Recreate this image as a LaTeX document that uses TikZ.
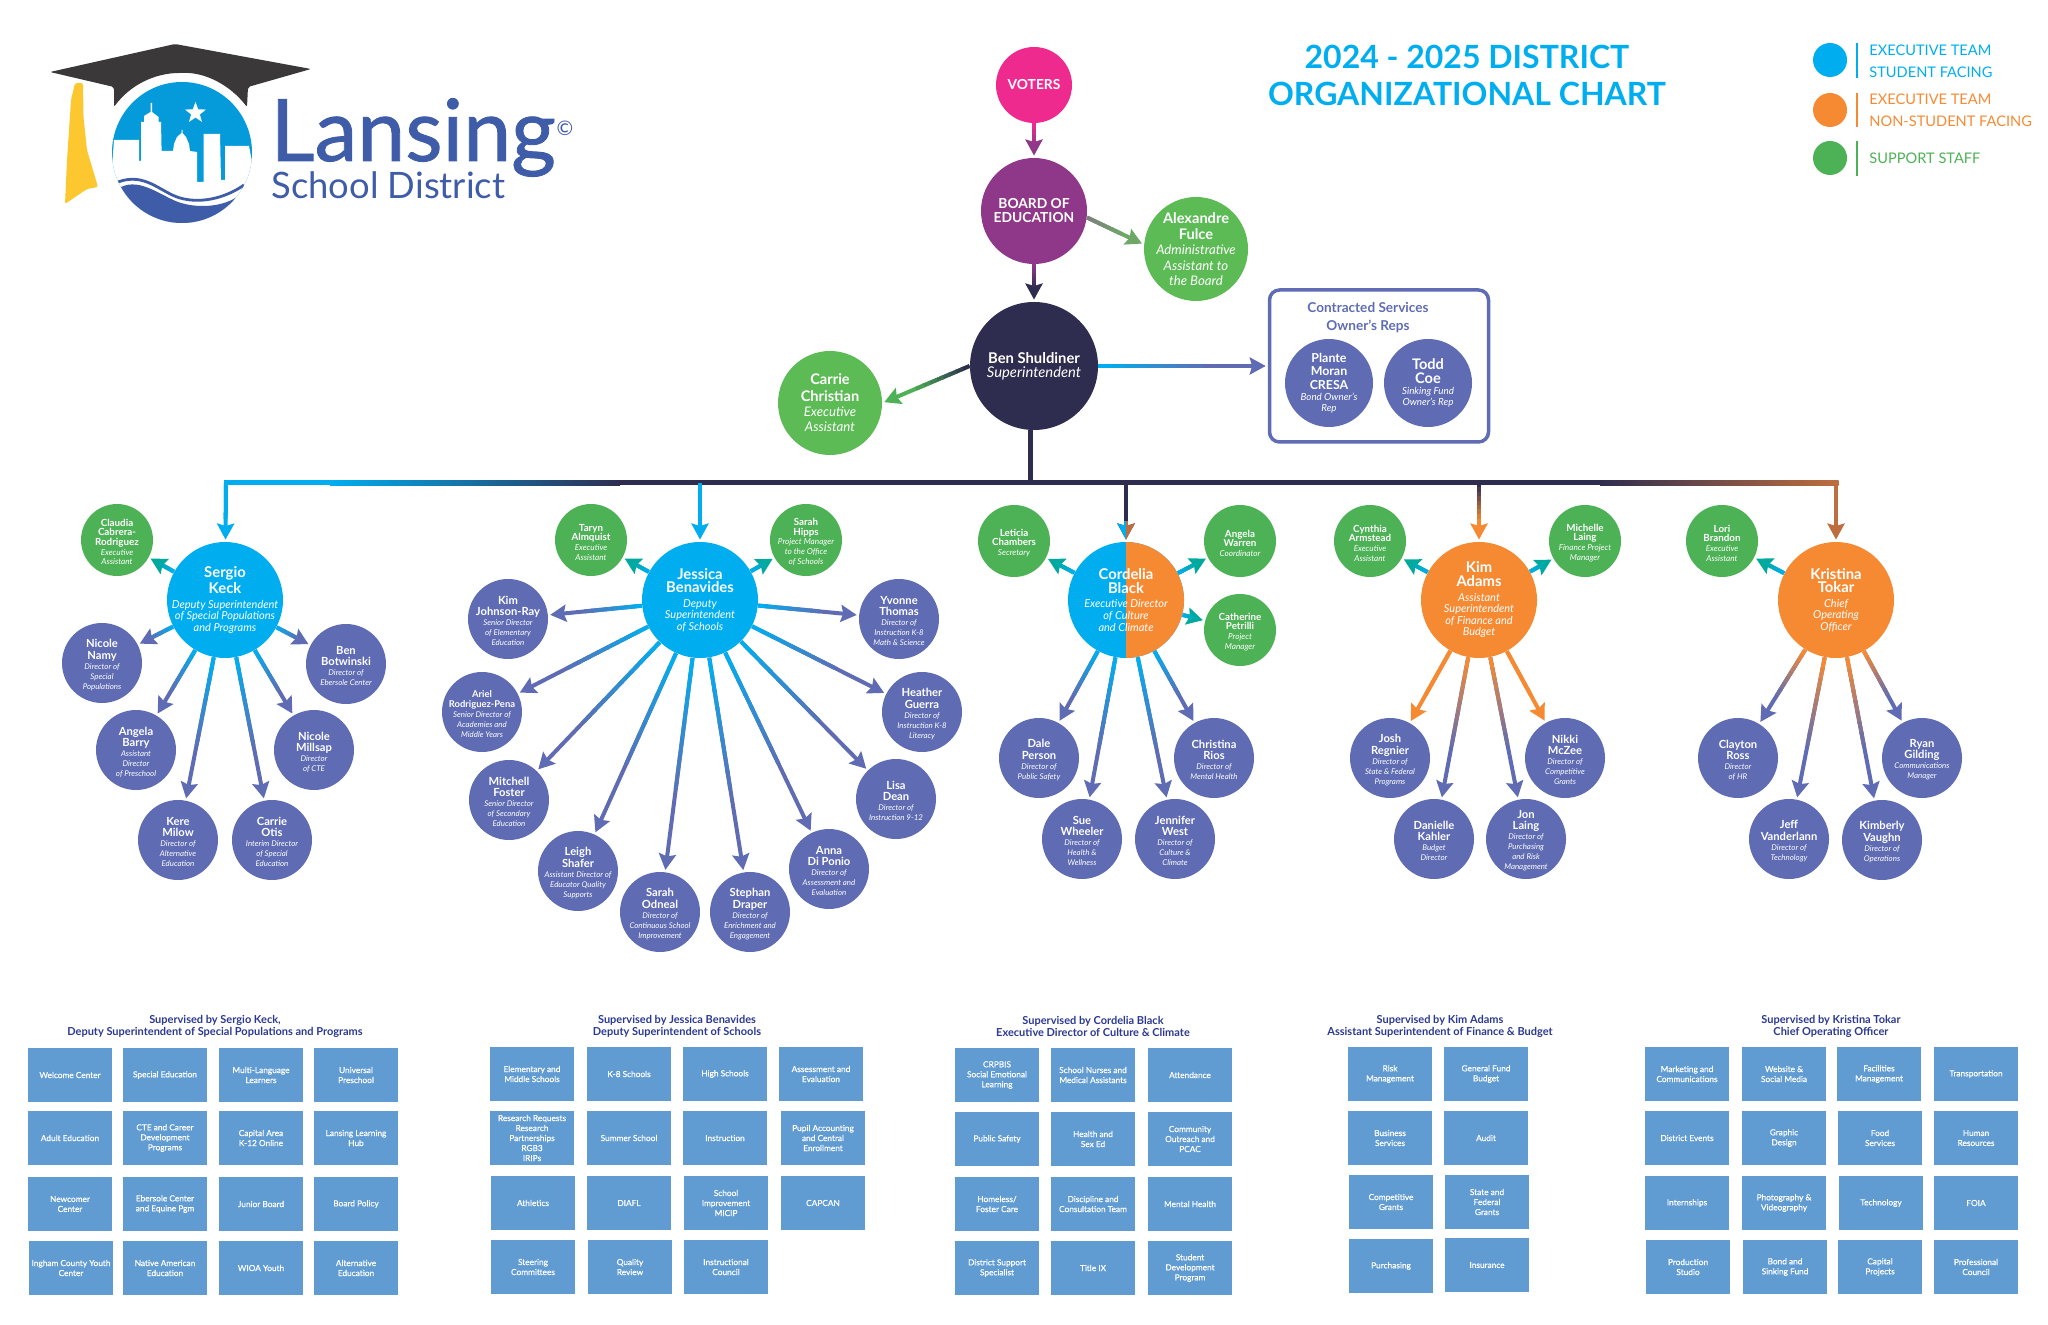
\documentclass[tikz,border=0pt]{standalone}
\usepackage{xcolor}
\usepackage{fontspec}
\setmainfont{Lato}
\usepackage{tikz}
\usetikzlibrary{arrows.meta, calc, shapes.geometric}

\definecolor{execblue}{HTML}{00AEEF}
\definecolor{execorange}{HTML}{F58A33}
\definecolor{memberblue}{HTML}{5F6CB3}
\definecolor{staffgreen}{HTML}{4DB155}
\definecolor{lightgreen}{HTML}{5CBB55}
\definecolor{fulcegreen}{HTML}{6EA868}
\definecolor{tealhead}{HTML}{00A99D}
\definecolor{votepink}{HTML}{EE2A8F}
\definecolor{boardpurple}{HTML}{8F3788}
\definecolor{navyblue}{HTML}{2E2D50}
\definecolor{unitblue}{HTML}{609BD2}
\definecolor{headblue}{HTML}{2B3990}
\definecolor{brownorange}{HTML}{BE6E3E}
\definecolor{logoblue}{HTML}{3F5CA8}
\definecolor{logosky}{HTML}{059BDB}
\definecolor{logogold}{HTML}{FDC82F}
\definecolor{logocap}{HTML}{3A3839}
\definecolor{greyline}{HTML}{7F7F7F}

\newcommand{\whotext}[6]{\makebox[0pt]{\parbox{90pt}{\centering
  {\fontsize{#1}{#2}\selectfont\bfseries #5\par}
  {\fontsize{#3}{#4}\selectfont\itshape #6\par}}}}
\newcommand{\whotop}[2]{\whotext{7.3}{8.2}{6.6}{7.6}{#1}{#2}}
\newcommand{\wholead}[2]{\whotext{7.4}{6.8}{5.5}{5.8}{#1}{\vspace*{1.5pt}#2}}
\newcommand{\whorep}[2]{\whotext{6.2}{6.8}{4.9}{5.5}{#1}{#2}}
\newcommand{\whosub}[2]{\whotext{5.6}{5.6}{3.95}{5}{\vspace*{2pt}#1}{#2}}
\newcommand{\whostaff}[2]{\whotext{4.9}{4.7}{4.1}{4.9}{\vspace*{2pt}#1}{#2}}

\newcommand{\arrowlink}[4]{%
  \draw[linkline, draw=#4, -{Stealth[length=8pt, width=8.5pt, inset=1.2pt]}, shorten >=1pt] (#1) -- (#2)
    coordinate[pos=0] (ls) coordinate[pos=.6] (le);
  \foreach \k [evaluate=\k as \m using int(\k*12.5)] in {0,...,7}
    \draw[linkline, draw=#4!\m!#3] ($(ls)!\k/8!(le)$) -- ($(ls)!\k/8+.15!(le)$);
}

\begin{document}
\begin{tikzpicture}[x=.5pt, y=-.5pt]
\tikzstyle{circ}=[circle, inner sep=0pt, text=white, align=center]
\tikzstyle{lead}=[circ, minimum size=58pt, fill=execblue]
\tikzstyle{member}=[circ, minimum size=40pt, fill=memberblue]
\tikzstyle{staff}=[circ, minimum size=36pt, fill=staffgreen]
\tikzstyle{unit}=[rectangle, fill=unitblue, minimum width=42pt, minimum height=27pt, inner sep=0pt, text=white, align=center, font=\fontsize{4.15}{5}\selectfont\addfontfeature{FakeBold=.6}]
\tikzstyle{grouphead}=[inner sep=0pt, text=headblue, align=center, font=\fontsize{5.5}{6}\selectfont\bfseries]
\tikzstyle{legendtext}=[anchor=west, inner sep=0pt, align=left, font=\fontsize{7.3}{11}\selectfont]
\tikzstyle{linkline}=[line width=2pt]
\useasboundingbox (0,0) rectangle (2048,1325);

\fill[logogold, rounded corners=1pt] (75,83) -- (83,83) -- (83.5,117) -- (87,150) -- (98,187) -- (87,189) -- (65,204) -- (67,160) -- (71,100) -- cycle;
\fill[logocap, rounded corners=1pt] (175,44) -- (311,69) -- (248,87) -- (247,107) .. controls (230,85) and (205,72) .. (181,73) .. controls (155,73) and (130,85) .. (114,107) -- (114,87) -- (50,72) -- cycle;
\begin{scope}
\clip (182,152.5) ellipse [x radius=70, y radius=70.5];
\fill[logosky] (100,70) rectangle (260,240);
\fill[white] (112,167) -- (114,140) -- (139,140) -- (139,161) -- (141,161) -- (141,122) -- (144,122) -- (144,116) -- (150.5,112) -- (150.5,103) -- (152,103) -- (152,112) -- (158.5,117) -- (158.5,122) -- (161,122) -- (161.6,151) -- (173,151) -- (174,144) -- (177,137) -- (181.5,133) -- (181.5,130) -- (182.5,130) -- (182.5,133) -- (186,137) -- (189,144) -- (190,151) -- (197,152) -- (197,182) -- (203.6,182) -- (203.6,134) -- (220,134) -- (221,180) -- (225,180) -- (225,146) -- (249,146) -- (253,167) -- (260,240) -- (100,240) -- cycle;
\fill[logoblue] (121,187) .. controls (140,178) and (160,195) .. (178,202) .. controls (195,208) and (220,208) .. (237,197) -- (240,240) -- (110,240) -- cycle;
\draw[logoblue, line width=1.4pt] (118,182) .. controls (145,172) and (160,192) .. (180,198) .. controls (205,205) and (230,195) .. (244,185);
\end{scope}
\node[star, star points=5, star point ratio=2.4, fill=white, minimum size=11pt, inner sep=0pt] (logostar) at (195.5,113) {};
\node[anchor=base west, inner sep=0pt, text=logoblue, font=\fontsize{43}{43}\selectfont\addfontfeature{FakeBold=1}] (lansing) at (270,161) {Lansing};
\node[anchor=base west, inner sep=0pt, text=logoblue, font=\fontsize{18.2}{18.2}\selectfont] (schooldistrict) at (271,199) {School District};
\node[inner sep=0pt, text=logoblue, font=\fontsize{10}{10}\selectfont] (copyright) at (565,128) {©};

\node[inner sep=0pt, text=execblue, align=center, font=\fontsize{16}{18.5}\selectfont\bfseries] (title) at (1467,75) {2024 - 2025 DISTRICT\\ORGANIZATIONAL CHART};

\node[circle, fill=execblue, minimum size=17pt, inner sep=0pt] (legendA) at (1830,60) {};
\node[circle, fill=execorange, minimum size=17pt, inner sep=0pt] (legendB) at (1830,110) {};
\node[circle, fill=staffgreen, minimum size=17pt, inner sep=0pt] (legendC) at (1830,158) {};
\draw[execblue, line width=.6pt] (1857,43) -- (1857,78);
\draw[execorange, line width=.6pt] (1857,93) -- (1857,127);
\draw[staffgreen, line width=.6pt] (1857,141) -- (1857,176);
\node[legendtext, text=execblue] (legendAtext) at (1869,61) {EXECUTIVE TEAM\\STUDENT FACING};
\node[legendtext, text=execorange] (legendBtext) at (1869,110) {EXECUTIVE TEAM\\NON-STUDENT FACING};
\node[legendtext, text=staffgreen] (legendCtext) at (1869,158) {SUPPORT STAFF};

\node[circ, minimum size=38pt, fill=votepink, font=\fontsize{6.9}{7}\selectfont\bfseries] (voters) at (1034,85) {VOTERS};
\node[circ, minimum size=53pt, fill=boardpurple, font=\fontsize{6.9}{7}\selectfont\bfseries] (board) at (1034,211) {BOARD OF\\EDUCATION};
\node[circ, minimum size=52pt, fill=lightgreen] (fulce) at (1196,249) {\whotop{Alexandre\\Fulce}{Administrative\\Assistant to\\the Board}};
\node[circ, minimum size=64pt, fill=navyblue] (ben) at (1034,366) {\whotext{7.4}{7}{7.4}{7}{Ben Shuldiner}{Superintendent}};
\node[circ, minimum size=52pt, fill=lightgreen] (christian) at (830,403) {\whotop{Carrie\\Christian}{Executive\\Assistant}};
\node[draw=memberblue, line width=1.75pt, rounded corners=5pt, minimum width=109.5pt, minimum height=76pt, inner sep=0pt] (contract) at (1379,366) {};
\node[inner sep=0pt, text=memberblue, align=center, font=\fontsize{6.8}{9}\selectfont\bfseries] (contracthead) at (1368,318) {Contracted Services\\Owner’s Reps};
\node[circ, minimum size=44pt, fill=memberblue] (plante) at (1329,383) {\whorep{Plante\\Moran\\CRESA}{Bond Owner’s\\Rep}};
\node[circ, minimum size=44pt, fill=memberblue] (todd) at (1428,383) {\whotext{7.3}{7}{4.9}{5.5}{Todd\\Coe}{Sinking Fund\\Owner’s Rep}};

\node[lead] (sergio) at (225,600) {\wholead{Sergio\\Keck}{Deputy Superintendent\\of Special Populations\\and Programs}};
\node[staff] (claudia) at (117,540) {\whostaff{Claudia\\Cabrera-\\Rodriguez}{Executive\\Assistant}};
\node[member] (namy) at (102,663) {\whosub{Nicole\\Namy}{Director of\\Special\\Populations}};
\node[member] (botwinski) at (346,664) {\whosub{Ben\\Botwinski}{Director of\\Ebersole Center}};
\node[member] (barry) at (136,750) {\whosub{Angela\\Barry}{Assistant\\Director\\of Preschool}};
\node[member] (millsap) at (314,750) {\whosub{Nicole\\Millsap}{Director\\of CTE}};
\node[member] (milow) at (178,840) {\whosub{Kere\\Milow}{Director of\\Alternative\\Education}};
\node[member] (otis) at (272,840) {\whosub{Carrie\\Otis}{Interim Director\\of Special\\Education}};

\node[lead] (jessica) at (700,600) {\wholead{Jessica\\Benavides}{Deputy\\Superintendent\\of Schools}};
\node[staff] (almquist) at (591,540) {\whostaff{Taryn\\Almquist}{Executive\\Assistant}};
\node[staff] (hipps) at (806,540) {\whostaff{Sarah\\Hipps}{Project Manager\\to the Office\\of Schools}};
\node[member] (johnsonray) at (508,619) {\whosub{Kim\\Johnson-Ray}{Senior Director\\of Elementary\\Education}};
\node[member] (thomas) at (899,619) {\whosub{Yvonne\\Thomas}{Director of\\Instruction K-8\\Math \& Science}};
\node[member] (rodriguez) at (482,712) {\whotext{4.7}{5.2}{3.95}{5}{\vspace*{2pt}Ariel\\Rodriguez-Pena}{Senior Director of\\Academies and\\Middle Years}};
\node[member] (guerra) at (922,712) {\whosub{Heather\\Guerra}{Director of\\Instruction K-8\\Literacy}};
\node[member] (foster) at (509,800) {\whosub{Mitchell\\Foster}{Senior Director\\of Secondary\\Education}};
\node[member] (dean) at (896,799) {\whosub{Lisa\\Dean}{Director of\\Instruction 9-12}};
\node[member] (shafer) at (578,871) {\whosub{Leigh\\Shafer}{Assistant Director of\\Educator Quality\\Supports}};
\node[member] (diponio) at (829,869) {\whosub{Anna\\Di Ponio}{Director of\\Assessment and\\Evaluation}};
\node[member] (odneal) at (660,912) {\whosub{Sarah\\Odneal}{Director of\\Continuous School\\Improvement}};
\node[member] (draper) at (750,912) {\whosub{Stephan\\Draper}{Director of\\Enrichment and\\Engagement}};

\node[lead, path picture={\fill[execorange] (path picture bounding box.north) rectangle (path picture bounding box.south east);}] (cordelia) at (1126,600) {\wholead{Cordelia\\Black}{Executive Director\\of Culture\\and Climate}};
\node[staff] (chambers) at (1014,541) {\whostaff{Leticia\\Chambers}{Secretary}};
\node[staff] (warren) at (1240,541) {\whostaff{Angela\\Warren}{Coordinator}};
\node[staff] (petrilli) at (1240,630) {\whostaff{Catherine\\Petrilli}{Project\\Manager}};
\node[member] (person) at (1039,758) {\whosub{Dale\\Person}{Director of\\Public Safety}};
\node[member] (rios) at (1214,758) {\whosub{Christina\\Rios}{Director of\\Mental Health}};
\node[member] (wheeler) at (1082,839) {\whosub{Sue\\Wheeler}{Director of\\Health \&\\Wellness}};
\node[member] (west) at (1175,839) {\whosub{Jennifer\\West}{Director of\\Culture \&\\Climate}};

\node[lead, fill=execorange] (kim) at (1479,600) {\wholead{Kim\\Adams}{Assistant\\Superintendent\\of Finance and\\Budget}};
\node[staff] (armstead) at (1370,541) {\whostaff{Cynthia\\Armstead}{Executive\\Assistant}};
\node[staff] (mlaing) at (1585,541) {\whostaff{Michelle\\Laing}{Finance Project\\Manager}};
\node[member] (regnier) at (1390,758) {\whosub{Josh\\Regnier}{Director of\\State \& Federal\\Programs}};
\node[member] (mczee) at (1565,758) {\whosub{Nikki\\McZee}{Director of\\Competitive\\Grants}};
\node[member] (kahler) at (1434,839) {\whosub{Danielle\\Kahler}{Budget\\Director}};
\node[member] (jlaing) at (1526,839) {\whosub{Jon\\Laing}{Director of\\Purchasing\\and Risk\\Management}};

\node[lead, fill=execorange] (kristina) at (1836,600) {\wholead{Kristina\\Tokar}{Chief\\Operating\\Officer}};
\node[staff] (brandon) at (1722,541) {\whostaff{Lori\\Brandon}{Executive\\Assistant}};
\node[member] (ross) at (1738,758) {\whosub{Clayton\\Ross}{Director\\of HR}};
\node[member] (gilding) at (1922,758) {\whosub{Ryan\\Gilding}{Communications\\Manager}};
\node[member] (vanderlann) at (1789,839) {\whosub{Jeff\\Vanderlann}{Director of\\Technology}};
\node[member] (vaughn) at (1882,840) {\whosub{Kimberly\\Vaughn}{Director of\\Operations}};

\coordinate (busL) at (226,483);
\coordinate (busA) at (330,483);
\coordinate (busB) at (620,483);
\coordinate (busC) at (1600,483);
\coordinate (busR) at (1836,483);
\coordinate (tapJ) at (700,483);
\coordinate (tapC) at (1126,483);
\coordinate (tapK) at (1479,483);
\coordinate (tapB) at (1030,483);

\draw[execblue, line width=2.5pt, line cap=rect] (busL) -- (busA);
\shade[left color=execblue, right color=navyblue] ($(busA)+(0,-2.5)$) rectangle ($(busB)+(0,2.5)$);
\draw[navyblue, line width=2.5pt] (busB) -- (busC);
\shade[left color=navyblue, right color=brownorange] ($(busC)+(0,-2.5)$) rectangle ($(busR)+(2.5,2.5)$);
\draw[navyblue, line width=2.5pt] (ben.south -| tapB) -- (tapB);

\arrowlink{voters}{board}{votepink}{boardpurple}
\arrowlink{board}{ben}{boardpurple}{navyblue}
\arrowlink{board.-7}{fulce.175}{greyline}{fulcegreen}
\arrowlink{ben.west}{christian.east}{navyblue}{staffgreen}
\arrowlink{ben.east}{contract.west}{execblue}{memberblue}

\arrowlink{busL}{sergio}{execblue}{execblue}
\arrowlink{tapJ}{jessica}{execblue}{execblue}
\arrowlink{tapC}{cordelia}{navyblue}{navyblue}
\begin{scope}
\clip (cordelia.north) ++(-20,-20) rectangle (cordelia.north);
\draw[linkline, draw=execblue, -{Stealth[length=8pt, width=8.5pt, inset=1.2pt]}, shorten >=1pt] (tapC) -- (cordelia);
\end{scope}
\begin{scope}
\clip (cordelia.north) ++(20,-20) rectangle (cordelia.north);
\draw[linkline, draw=brownorange, -{Stealth[length=8pt, width=8.5pt, inset=1.2pt]}, shorten >=1pt] (tapC) -- (cordelia);
\end{scope}
\arrowlink{tapK}{kim}{navyblue}{execorange}
\arrowlink{busR}{kristina}{brownorange}{brownorange}

\arrowlink{sergio}{claudia}{execblue}{tealhead}
\arrowlink{sergio}{namy}{execblue}{memberblue}
\arrowlink{sergio}{botwinski}{execblue}{memberblue}
\arrowlink{sergio}{barry}{execblue}{memberblue}
\arrowlink{sergio}{millsap}{execblue}{memberblue}
\arrowlink{sergio}{milow}{execblue}{memberblue}
\arrowlink{sergio}{otis}{execblue}{memberblue}

\arrowlink{jessica}{almquist}{execblue}{tealhead}
\arrowlink{jessica}{hipps}{execblue}{tealhead}
\arrowlink{jessica}{johnsonray}{execblue}{memberblue}
\arrowlink{jessica}{thomas}{execblue}{memberblue}
\arrowlink{jessica}{rodriguez}{execblue}{memberblue}
\arrowlink{jessica}{guerra}{execblue}{memberblue}
\arrowlink{jessica}{foster}{execblue}{memberblue}
\arrowlink{jessica}{dean}{execblue}{memberblue}
\arrowlink{jessica}{shafer}{execblue}{memberblue}
\arrowlink{jessica}{diponio}{execblue}{memberblue}
\arrowlink{jessica}{odneal}{execblue}{memberblue}
\arrowlink{jessica}{draper}{execblue}{memberblue}

\arrowlink{cordelia}{chambers}{execblue}{tealhead}
\arrowlink{cordelia}{warren}{execblue}{tealhead}
\arrowlink{cordelia}{petrilli}{execblue}{tealhead}
\arrowlink{cordelia}{person}{execblue}{memberblue}
\arrowlink{cordelia}{rios}{execblue}{memberblue}
\arrowlink{cordelia}{wheeler}{execblue}{memberblue}
\arrowlink{cordelia}{west}{execblue}{memberblue}

\arrowlink{kim}{armstead}{execblue}{tealhead}
\arrowlink{kim}{mlaing}{execblue}{tealhead}
\arrowlink{kim}{regnier}{execorange}{execorange}
\arrowlink{kim}{mczee}{execorange}{execorange}
\arrowlink{kim}{kahler}{execorange}{memberblue}
\arrowlink{kim}{jlaing}{execorange}{memberblue}

\arrowlink{kristina}{brandon}{execblue}{tealhead}
\arrowlink{kristina}{ross}{execorange}{memberblue}
\arrowlink{kristina}{gilding}{execorange}{memberblue}
\arrowlink{kristina}{vanderlann}{execorange}{memberblue}
\arrowlink{kristina}{vaughn}{execorange}{memberblue}

\node[grouphead] (keckhead) at (215,1026) {Supervised by Sergio Keck,\\Deputy Superintendent of Special Populations and Programs};
\node[unit] (welcome) at (70,1075) {Welcome Center};
\node[unit] (special) at (165,1075) {Special Education};
\node[unit] (multilang) at (261,1075) {Multi-Language\\Learners};
\node[unit] (universal) at (356,1075) {Universal\\Preschool};
\node[unit] (adult) at (70,1138) {Adult Education};
\node[unit] (ctecareer) at (165,1138) {CTE and Career\\Development\\Programs};
\node[unit] (capital) at (261,1138) {Capital Area\\K-12 Online};
\node[unit] (learning) at (356,1138) {Lansing Learning\\Hub};
\node[unit] (newcomer) at (70,1204) {Newcomer\\Center};
\node[unit] (ebersole) at (165,1204) {Ebersole Center\\and Equine Pgm};
\node[unit] (junior) at (261,1204) {Junior Board};
\node[unit] (boardpolicy) at (356,1204) {Board Policy};
\node[unit] (ingham) at (71,1268) {Ingham County Youth\\Center};
\node[unit] (native) at (165,1268) {Native American\\Education};
\node[unit] (wioa) at (261,1268) {WIOA Youth};
\node[unit] (alternative) at (356,1268) {Alternative\\Education};

\node[grouphead] (benavideshead) at (677,1026) {Supervised by Jessica Benavides\\Deputy Superintendent of Schools};
\node[unit] (elementary) at (532,1074) {Elementary and\\Middle Schools};
\node[unit] (keight) at (629,1074) {K-8 Schools};
\node[unit] (high) at (725,1074) {High Schools};
\node[unit] (assessment) at (821,1074) {Assessment and\\Evaluation};
\node[unit] (research) at (532,1138) {Research Requests\\Research\\Partnerships\\RGB3\\IRIPs};
\node[unit] (summer) at (629,1138) {Summer School};
\node[unit] (instruction) at (725,1138) {Instruction};
\node[unit] (pupil) at (823,1138) {Pupil Accounting\\and Central\\Enrollment};
\node[unit] (athletics) at (533,1203) {Athletics};
\node[unit] (diafl) at (629,1203) {DIAFL};
\node[unit] (improvement) at (726,1203) {School\\Improvement\\MICIP};
\node[unit] (capcan) at (823,1203) {CAPCAN};
\node[unit] (steering) at (533,1267) {Steering\\Committees};
\node[unit] (quality) at (630,1267) {Quality\\Review};
\node[unit] (council) at (726,1267) {Instructional\\Council};

\node[grouphead] (blackhead) at (1093,1026) {Supervised by Cordelia Black\\Executive Director of Culture \& Climate};
\node[unit] (crpbis) at (997,1075) {CRPBIS\\Social Emotional\\Learning};
\node[unit] (nurses) at (1093,1075) {School Nurses and\\Medical Assistants};
\node[unit] (attendance) at (1190,1075) {Attendance};
\node[unit] (safety) at (997,1139) {Public Safety};
\node[unit] (health) at (1093,1139) {Health and\\Sex Ed};
\node[unit] (community) at (1190,1139) {Community\\Outreach and\\PCAC};
\node[unit] (homeless) at (997,1204) {Homeless/\\Foster Care};
\node[unit] (discipline) at (1093,1204) {Discipline and\\Consultation Team};
\node[unit] (mental) at (1190,1204) {Mental Health};
\node[unit] (support) at (997,1268) {District Support\\Specialist};
\node[unit] (titleix) at (1093,1268) {Title IX};
\node[unit] (student) at (1190,1268) {Student\\Development\\Program};

\node[grouphead] (adamshead) at (1440,1026) {Supervised by Kim Adams\\Assistant Superintendent of Finance \& Budget};
\node[unit] (risk) at (1390,1074) {Risk\\Management};
\node[unit] (fund) at (1486,1074) {General Fund\\Budget};
\node[unit] (business) at (1390,1138) {Business\\Services};
\node[unit] (audit) at (1486,1138) {Audit};
\node[unit] (competitive) at (1391,1202) {Competitive\\Grants};
\node[unit] (federal) at (1487,1202) {State and\\Federal\\Grants};
\node[unit] (purchasing) at (1391,1266) {Purchasing};
\node[unit] (insurance) at (1487,1265) {Insurance};

\node[grouphead] (tokarhead) at (1831,1026) {Supervised by Kristina Tokar\\Chief Operating Officer};
\node[unit] (marketing) at (1687,1074) {Marketing and\\Communications};
\node[unit] (website) at (1784,1074) {Website \&\\Social Media};
\node[unit] (facilities) at (1879,1074) {Facilities\\Management};
\node[unit] (transportation) at (1976,1074) {Transportation};
\node[unit] (events) at (1687,1138) {District Events};
\node[unit] (graphic) at (1784,1138) {Graphic\\Design};
\node[unit] (food) at (1880,1138) {Food\\Services};
\node[unit] (human) at (1976,1138) {Human\\Resources};
\node[unit] (internships) at (1687,1203) {Internships};
\node[unit] (photo) at (1784,1203) {Photography \&\\Videography};
\node[unit] (technology) at (1881,1203) {Technology};
\node[unit] (foia) at (1976,1203) {FOIA};
\node[unit] (production) at (1688,1267) {Production\\Studio};
\node[unit] (bond) at (1785,1267) {Bond and\\Sinking Fund};
\node[unit] (projects) at (1880,1267) {Capital\\Projects};
\node[unit] (professional) at (1976,1267) {Professional\\Council};
\end{tikzpicture}
\end{document}
